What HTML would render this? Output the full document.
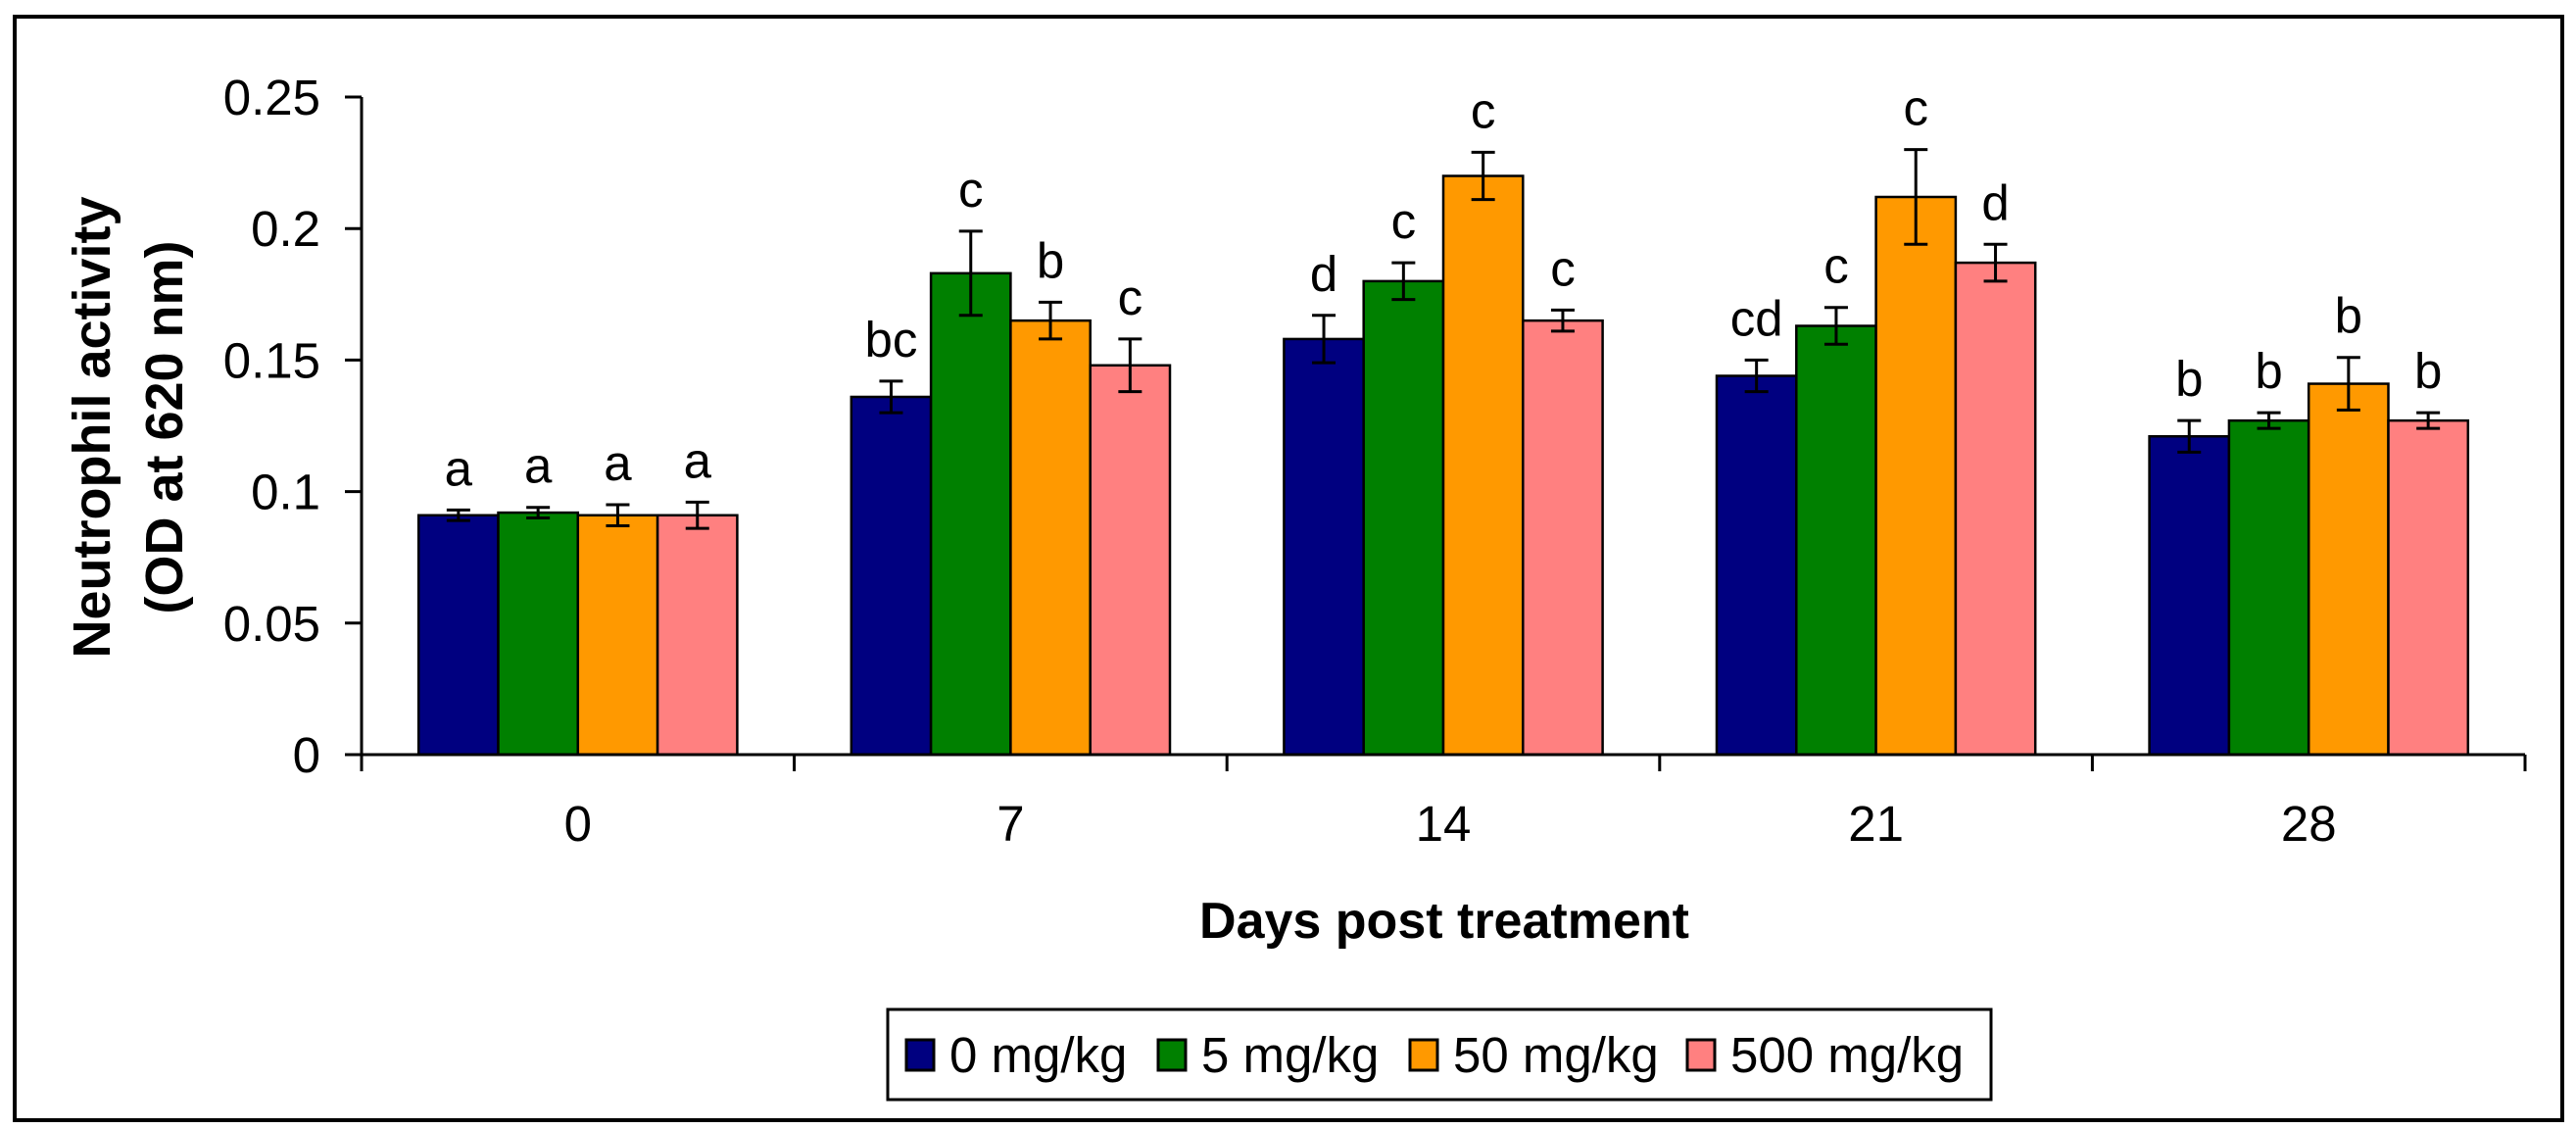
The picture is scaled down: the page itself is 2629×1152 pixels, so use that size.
<!DOCTYPE html>
<html><head><meta charset="utf-8"><style>
html,body{margin:0;padding:0;background:#fff;}
svg{display:block;}
text{font-family:"Liberation Sans",Arial,sans-serif;}
</style></head><body>
<svg id="chart" width="2629" height="1152" viewBox="0 0 2629 1152" xmlns="http://www.w3.org/2000/svg">
<rect x="15" y="17" width="2600" height="1126" fill="#fff" stroke="#000" stroke-width="4"/>
<g id="plot"></g>
<text transform="translate(112,436) rotate(-90)" text-anchor="middle" font-size="54" font-weight="bold">Neutrophil activity</text>
<text transform="translate(186,436) rotate(-90)" text-anchor="middle" font-size="54" font-weight="bold">(OD at 620 nm)</text>
<text x="1474" y="957" text-anchor="middle" font-size="52" font-weight="bold">Days post treatment</text>
<g>
<rect x="906" y="1030" width="1126" height="92" fill="#fff" stroke="#000" stroke-width="3"/>
<g id="legend-items"></g>
</g>
</svg>
<script>
const categories = ["0","7","14","21","28"];
const seriesNames = ["0 mg/kg","5 mg/kg","50 mg/kg","500 mg/kg"];
const s0 = [0.091,0.136,0.158,0.144,0.121];
const s5 = [0.092,0.183,0.180,0.163,0.127];
const s50 = [0.091,0.165,0.220,0.212,0.141];
const s500 = [0.091,0.148,0.165,0.187,0.127];
const e0 = [0.002,0.006,0.009,0.006,0.006];
const e5 = [0.002,0.016,0.007,0.007,0.003];
const e50 = [0.004,0.007,0.009,0.018,0.010];
const e500 = [0.005,0.010,0.004,0.007,0.003];
const l0 = ["a","bc","d","cd","b"];
const l5 = ["a","c","c","c","b"];
const l50 = ["a","b","c","c","b"];
const l500 = ["a","c","c","d","b"];
const yTicks = [0,0.05,0.1,0.15,0.2,0.25];
const yTickLabels = ["0","0.05","0.1","0.15","0.2","0.25"];

const colors = ["#000080","#008000","#FF9900","#FF8080"];
const values = [s0,s5,s50,s500], errs=[e0,e5,e50,e500], lets=[l0,l5,l50,l500];
const X0=369, X1=2577, Y0=770, Y1=99, YMAX=0.25;
const y = v => Y0 - v/YMAX*(Y0-Y1);
const gw = (X1-X0)/categories.length;
const bw = 81.3;
const bx = (g,s) => X0 + g*gw + (gw-4*bw)/2 + s*bw;
const NS="http://www.w3.org/2000/svg";
const plot=document.getElementById('plot');
function mk(tag,attrs,parent){const e=document.createElementNS(NS,tag);for(const k in attrs)e.setAttribute(k,attrs[k]);(parent||plot).appendChild(e);return e;}

for(let s=0;s<4;s++){for(let g=0;g<categories.length;g++){
  const v=values[s][g], x=bx(g,s);
  const r=mk('rect',{x:x,y:y(v),width:bw,height:Y0-y(v),fill:colors[s],stroke:'#000','stroke-width':2.5});
  
  
  const cx=x+bw/2, top=y(v+errs[s][g]), bot=y(v-errs[s][g]);
  const eb=mk('path',{d:`M${cx},${top}V${bot}M${cx-12},${top}H${cx+12}M${cx-12},${bot}H${cx+12}`,stroke:'#000','stroke-width':3,fill:'none'});
  
  
  const t=mk('text',{x:cx,y:top-25,'text-anchor':'middle','font-size':51});
  t.textContent=lets[s][g];
  
  
}}
const ya=mk('line',{x1:X0,y1:Y1,x2:X0,y2:Y0,stroke:'#000','stroke-width':3});


const xa=mk('line',{x1:X0,y1:Y0,x2:X1,y2:Y0,stroke:'#000','stroke-width':3});


yTicks.forEach((v,i)=>{
  mk('line',{x1:352,y1:y(v),x2:X0,y2:y(v),stroke:'#000','stroke-width':3});
  const t=mk('text',{x:327,y:y(v)+18,'text-anchor':'end','font-size':51});
  t.textContent=yTickLabels[i];
  
  
});
for(let g=0;g<=categories.length;g++){mk('line',{x1:X0+g*gw,y1:Y0,x2:X0+g*gw,y2:Y0+17,stroke:'#000','stroke-width':3});}
categories.forEach((c,g)=>{
  const t=mk('text',{x:X0+g*gw+gw/2,y:858,'text-anchor':'middle','font-size':51});
  t.textContent=c;
  
  
});
const li=document.getElementById('legend-items');
const lx=[925,1182,1439,1722];
seriesNames.forEach((n,i)=>{
  const g=mk('g',{},li);
  
  
  mk('rect',{x:lx[i],y:1061,width:28,height:31,fill:colors[i],stroke:'#000','stroke-width':3},g);
  const t=mk('text',{x:lx[i]+44,y:1094,'font-size':51},g);
  t.textContent=n;
});
</script>
</body></html>
